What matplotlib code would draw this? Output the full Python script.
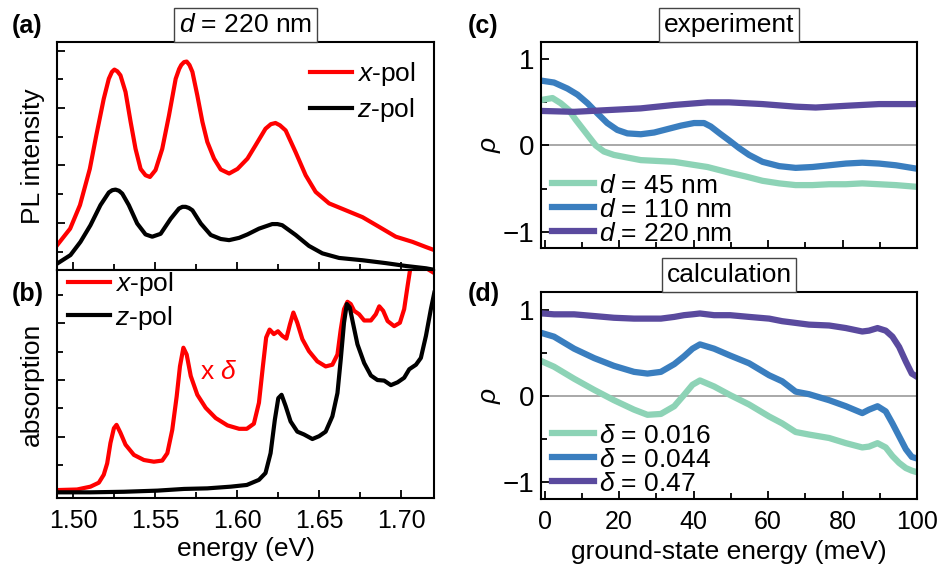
import matplotlib
matplotlib.use("Agg")
import matplotlib.pyplot as plt
from matplotlib.ticker import MultipleLocator

plt.rcParams['font.family'] = ['Liberation Sans', 'DejaVu Sans']
plt.rcParams['mathtext.fontset'] = 'custom'
plt.rcParams['mathtext.rm'] = 'Liberation Sans'
plt.rcParams['mathtext.it'] = 'Liberation Sans:italic'
plt.rcParams['font.size'] = 18
plt.rcParams['lines.solid_joinstyle'] = 'round'

# ---- (a) PL intensity, d = 220 nm ----
pl_x_E = [1.490, 1.498, 1.504, 1.510, 1.514, 1.5185, 1.5216, 1.5235, 1.525, 1.5268, 1.5287,
          1.5318, 1.5349, 1.5379, 1.541, 1.544, 1.5467, 1.5501, 1.5542, 1.5583, 1.5624,
          1.5645, 1.5658, 1.5675, 1.5691, 1.5708, 1.5726, 1.5756, 1.5787, 1.5817, 1.5858,
          1.5899, 1.595, 1.6001, 1.6062, 1.6111, 1.6172, 1.6205, 1.6233, 1.626, 1.6295,
          1.6356, 1.6417, 1.6478, 1.656, 1.6662, 1.6764, 1.6866, 1.6967, 1.7069, 1.7151,
          1.7208]
pl_x = [0.61, 0.90, 1.31, 1.94, 2.53, 3.16, 3.51, 3.63, 3.67, 3.64, 3.57,
        3.28, 2.76, 2.29, 1.94, 1.83, 1.80, 1.92, 2.29, 2.87, 3.51,
        3.68, 3.75, 3.80, 3.81, 3.75, 3.63, 3.22, 2.76, 2.41, 2.12,
        1.93, 1.86, 1.94, 2.12, 2.35, 2.64, 2.72, 2.74, 2.70, 2.61,
        2.23, 1.83, 1.54, 1.34, 1.22, 1.10, 0.93, 0.76, 0.67, 0.58,
        0.52]
pl_z_E = [1.490, 1.4982, 1.5043, 1.5104, 1.5165, 1.5216, 1.5237, 1.5257, 1.5278, 1.5298,
          1.5338, 1.5389, 1.544, 1.5481, 1.5532, 1.5593, 1.5644, 1.5665, 1.5685, 1.5705,
          1.5726, 1.5777, 1.5838, 1.5899, 1.595, 1.6011, 1.6062, 1.6132, 1.6213, 1.6245,
          1.6274, 1.6356, 1.6437, 1.6519, 1.6621, 1.6764, 1.6906, 1.7029, 1.7151, 1.7208]
pl_z = [0.29, 0.44, 0.67, 0.96, 1.31, 1.53, 1.57, 1.58, 1.56, 1.51,
        1.31, 0.99, 0.80, 0.76, 0.81, 1.07, 1.25, 1.28, 1.28, 1.26,
        1.22, 0.99, 0.79, 0.72, 0.70, 0.74, 0.80, 0.90, 0.98, 0.98,
        0.96, 0.79, 0.60, 0.47, 0.39, 0.35, 0.30, 0.25, 0.21, 0.18]

# ---- (b) absorption ----
ab_x_E = [1.490, 1.5022, 1.5104, 1.5155, 1.5185, 1.5206, 1.5226, 1.5247, 1.5263, 1.5287,
          1.5318, 1.5369, 1.543, 1.5491, 1.5542, 1.5573, 1.5603, 1.563, 1.565, 1.5671,
          1.5691, 1.5716, 1.5756, 1.5807, 1.5868, 1.594, 1.6011, 1.6058, 1.6101, 1.6132,
          1.6156, 1.6176, 1.6197, 1.6223, 1.6248, 1.6274, 1.6299, 1.6321, 1.6342, 1.6366,
          1.6397, 1.6437, 1.6488, 1.6539, 1.658, 1.6611, 1.6631, 1.6651, 1.6672, 1.6692,
          1.6713, 1.6743, 1.6774, 1.6815, 1.6845, 1.6866, 1.689, 1.6917, 1.6957, 1.6992,
          1.7018, 1.7039, 1.7055, 1.7075, 1.712, 1.7165, 1.7205]
ab_x = [0.06, 0.07, 0.12, 0.19, 0.33, 0.53, 0.89, 1.15, 1.21, 1.07,
        0.86, 0.68, 0.59, 0.56, 0.58, 0.71, 1.12, 1.71, 2.24, 2.57,
        2.45, 2.07, 1.74, 1.51, 1.33, 1.20, 1.14, 1.14, 1.23, 1.60,
        2.24, 2.75, 2.89, 2.81, 2.86, 2.78, 2.73, 2.98, 3.19, 3.01,
        2.72, 2.51, 2.33, 2.24, 2.27, 2.45, 2.89, 3.25, 3.38, 3.34,
        3.22, 3.16, 3.05, 3.05, 3.16, 3.30, 3.22, 3.04, 2.95, 3.01,
        3.25, 3.66, 3.96, 4.40, 4.30, 3.95, 3.88]
ab_z_E = [1.490, 1.5104, 1.5308, 1.5512, 1.5675, 1.5817, 1.596, 1.6058, 1.6132, 1.6172,
          1.6203, 1.6229, 1.625, 1.627, 1.6295, 1.6325, 1.6366, 1.6407, 1.6458, 1.6499,
          1.6539, 1.658, 1.6611, 1.6631, 1.6651, 1.6668, 1.6686, 1.6706, 1.6733, 1.6774,
          1.6815, 1.6855, 1.6896, 1.6937, 1.6978, 1.7018, 1.7049, 1.709, 1.712, 1.7151,
          1.7181, 1.7202]
ab_z = [0.02, 0.02, 0.03, 0.05, 0.08, 0.09, 0.12, 0.15, 0.24, 0.36,
        0.71, 1.30, 1.68, 1.74, 1.54, 1.27, 1.09, 1.04, 0.96, 1.01,
        1.09, 1.36, 1.77, 2.36, 3.01, 3.34, 3.28, 3.00, 2.63, 2.30,
        2.08, 2.00, 1.99, 1.91, 1.96, 2.04, 2.19, 2.27, 2.39, 2.78,
        3.25, 3.54]

# ---- (c) experiment ----
exp_45_x = [-0.6, 2.1, 4.3, 6.5, 8.3, 10.1, 11.9, 13.7, 15.9, 18.6, 22.2, 25.8, 30.3,
            34.8, 39.2, 43.7, 47.3, 50.0, 54.0, 58.5, 63.0, 67.4, 71.9, 76.4, 80.9,
            85.3, 89.8, 94.3, 100.0]
exp_45 = [0.53, 0.55, 0.49, 0.41, 0.30, 0.20, 0.10, 0.00, -0.07, -0.11, -0.14, -0.17, -0.18,
          -0.19, -0.22, -0.25, -0.29, -0.32, -0.36, -0.41, -0.44, -0.46, -0.46, -0.45, -0.45,
          -0.44, -0.45, -0.46, -0.48]
exp_110_x = [-0.6, 2.5, 6.1, 8.8, 11.5, 14.2, 16.8, 19.5, 22.2, 25.8, 29.4, 33.0, 36.6,
             40.1, 42.8, 44.6, 47.3, 49.5, 52.2, 54.9, 58.5, 63.0, 67.4, 71.9, 76.4,
             80.9, 85.3, 89.8, 94.3, 100.0]
exp_110 = [0.75, 0.73, 0.66, 0.59, 0.49, 0.37, 0.26, 0.18, 0.14, 0.13, 0.15, 0.19, 0.23,
           0.26, 0.26, 0.22, 0.13, 0.06, -0.03, -0.11, -0.19, -0.24, -0.26, -0.25, -0.23,
           -0.21, -0.20, -0.21, -0.23, -0.27]
exp_220_x = [-0.6, 7.9, 16.8, 25.8, 34.8, 43.7, 49.5, 58.5, 67.4, 72.8, 80.9, 89.8, 100.0]
exp_220 = [0.40, 0.39, 0.41, 0.43, 0.47, 0.50, 0.50, 0.48, 0.45, 0.44, 0.46, 0.48, 0.48]

# ---- (d) calculation ----
calc_x = [-0.6, 2.5, 7.9, 13.3, 18.6, 24.0, 27.6, 31.2, 34.8, 37.4, 39.7, 41.7, 45.5,
          49.8, 54.9, 60.3, 63.8, 67.4, 71.0, 76.4, 80.9, 85.3, 87.1, 89.4, 91.6,
          93.4, 95.2, 97.0, 98.6, 100.1]
calc_016 = [0.40, 0.34, 0.20, 0.07, -0.05, -0.16, -0.22, -0.21, -0.12, 0.01, 0.13, 0.18, 0.11,
            0.01, -0.10, -0.24, -0.32, -0.42, -0.45, -0.49, -0.55, -0.60, -0.59, -0.55, -0.60,
            -0.70, -0.78, -0.84, -0.87, -0.89]
calc_044 = [0.73, 0.69, 0.55, 0.44, 0.35, 0.28, 0.26, 0.28, 0.37, 0.46, 0.55, 0.60, 0.55,
            0.47, 0.38, 0.24, 0.17, 0.05, 0.02, -0.05, -0.12, -0.20, -0.16, -0.12, -0.18,
            -0.32, -0.47, -0.62, -0.71, -0.73]
calc_47 = [0.96, 0.95, 0.95, 0.93, 0.91, 0.90, 0.90, 0.90, 0.92, 0.94, 0.95, 0.96, 0.94,
           0.94, 0.92, 0.90, 0.87, 0.85, 0.83, 0.82, 0.79, 0.75, 0.76, 0.79, 0.76,
           0.69, 0.57, 0.40, 0.26, 0.22]

red = '#ff0000'
teal = '#8dd3b6'
blue = '#3a7ebf'
purple = '#5a4a9e'

fig = plt.figure(figsize=(9.41, 5.74), dpi=100)
axa = fig.add_axes([0.0606, 0.5296, 0.4006, 0.3972])
axb = fig.add_axes([0.0606, 0.1324, 0.4006, 0.3972])
axc = fig.add_axes([0.5749, 0.5679, 0.3996, 0.3589])
axd = fig.add_axes([0.5749, 0.1307, 0.3996, 0.3606])


def style(ax):
    for s in ax.spines.values():
        s.set_linewidth(1.5)
    ax.tick_params(which='both', direction='in', top=False, right=False, width=1.3)
    ax.tick_params(which='major', length=6, pad=6)
    ax.tick_params(which='minor', length=4)


def boxed_title(ax, txt):
    ax.annotate(txt, xy=(0.5, 1.0), xycoords='axes fraction', xytext=(0, 3.5),
                textcoords='offset points', ha='center', va='bottom', fontsize=19,
                bbox=dict(boxstyle='square,pad=0.18', fc='white', ec='#444444', lw=1),
                zorder=10, annotation_clip=False)


lw1 = 3.0
lw2 = 4.5

# (a)
axa.plot(pl_x_E, pl_x, color=red, lw=lw1, label='$x$-pol')
axa.plot(pl_z_E, pl_z, color='black', lw=lw1, label='$z$-pol')
axa.set_xlim(1.49, 1.72)
axa.set_ylim(0.18, 4.15)
axa.xaxis.set_major_locator(MultipleLocator(0.05))
axa.xaxis.set_minor_locator(MultipleLocator(0.025))
axa.yaxis.set_major_locator(MultipleLocator(1))
axa.yaxis.set_minor_locator(MultipleLocator(0.5))
axa.set_xticklabels([])
axa.set_yticklabels([])
style(axa)
axa.set_ylabel('PL intensity', fontsize=19)
axa.yaxis.set_label_coords(-0.032, 0.5)
axa.legend(loc='upper right', frameon=False, fontsize=19, handlelength=1.6,
           handletextpad=0.2, labelspacing=0.3, borderaxespad=0.3)
boxed_title(axa, '$d$ = 220 nm')

# (b)
axb.plot(ab_x_E, ab_x, color=red, lw=lw1, label='$x$-pol')
axb.plot(ab_z_E, ab_z, color='black', lw=lw1, label='$z$-pol')
axb.set_xlim(1.49, 1.72)
axb.set_ylim(-0.08, 3.94)
axb.xaxis.set_major_locator(MultipleLocator(0.05))
axb.xaxis.set_minor_locator(MultipleLocator(0.025))
axb.yaxis.set_major_locator(MultipleLocator(1))
axb.yaxis.set_minor_locator(MultipleLocator(0.5))
axb.xaxis.set_major_formatter(matplotlib.ticker.FormatStrFormatter('%.2f'))
axb.set_yticklabels([])
style(axb)
axb.tick_params(axis='x', which='major', pad=8)
axb.set_ylabel('absorption', fontsize=19)
axb.yaxis.set_label_coords(-0.035, 0.5)
axb.set_xlabel('energy (eV)', fontsize=19)
axb.xaxis.set_label_coords(0.5, -0.17)
axb.text(1.5885, 2.15, 'x $\\delta$', color=red, fontsize=19, ha='center', va='center')
axb.legend(loc='upper left', frameon=False, fontsize=19, handlelength=1.6,
           handletextpad=0.2, labelspacing=0.2, borderaxespad=0.0,
           bbox_to_anchor=(0.0, 1.045))

# (c)
axc.axhline(0, color='#999999', lw=1.2, zorder=1)
axc.plot(exp_45_x, exp_45, color=teal, lw=lw2, label='$d$ = 45 nm')
axc.plot(exp_110_x, exp_110, color=blue, lw=lw2, label='$d$ = 110 nm')
axc.plot(exp_220_x, exp_220, color=purple, lw=lw2, label='$d$ = 220 nm')
axc.set_xlim(-1, 100)
axc.set_ylim(-1.19, 1.2)
axc.xaxis.set_major_locator(MultipleLocator(20))
axc.xaxis.set_minor_locator(MultipleLocator(10))
axc.yaxis.set_major_locator(MultipleLocator(1))
axc.yaxis.set_minor_locator(MultipleLocator(0.5))
axc.set_xticklabels([])
style(axc)
axc.tick_params(axis='y', which='major', pad=5, labelsize=20)
axc.set_ylabel('$\\rho$', fontsize=19)
axc.yaxis.set_label_coords(-0.1, 0.5)
axc.legend(loc='lower left', frameon=False, fontsize=19, handlelength=1.6,
           handletextpad=0.2, labelspacing=0.0, borderaxespad=0.0,
           bbox_to_anchor=(0.0, -0.04))
boxed_title(axc, 'experiment')

# (d)
axd.axhline(0, color='#999999', lw=1.2, zorder=1)
axd.plot(calc_x, calc_016, color=teal, lw=lw2, label='$\\delta$ = 0.016')
axd.plot(calc_x, calc_044, color=blue, lw=lw2, label='$\\delta$ = 0.044')
axd.plot(calc_x, calc_47, color=purple, lw=lw2, label='$\\delta$ = 0.47')
axd.set_xlim(-1, 100)
axd.set_ylim(-1.2, 1.21)
axd.xaxis.set_major_locator(MultipleLocator(20))
axd.xaxis.set_minor_locator(MultipleLocator(10))
axd.yaxis.set_major_locator(MultipleLocator(1))
axd.yaxis.set_minor_locator(MultipleLocator(0.5))
style(axd)
axd.tick_params(axis='y', which='major', pad=5, labelsize=20)
axd.tick_params(axis='x', which='major', pad=8)
axd.set_ylabel('$\\rho$', fontsize=19)
axd.yaxis.set_label_coords(-0.1, 0.5)
axd.set_xlabel('ground-state energy (meV)', fontsize=19)
axd.xaxis.set_label_coords(0.5, -0.2)
axd.legend(loc='lower left', frameon=False, fontsize=19, handlelength=1.6,
           handletextpad=0.2, labelspacing=0.0, borderaxespad=0.0,
           bbox_to_anchor=(0.0, -0.035))
boxed_title(axd, 'calculation')

# panel letters
for x, y, s in [(0.013, 0.955, '(a)'), (0.012, 0.488, '(b)'),
                (0.497, 0.955, '(c)'), (0.497, 0.488, '(d)')]:
    fig.text(x, y, s, fontsize=18, fontweight='bold', va='center', ha='left')

fig.savefig('out.png', dpi=100)
